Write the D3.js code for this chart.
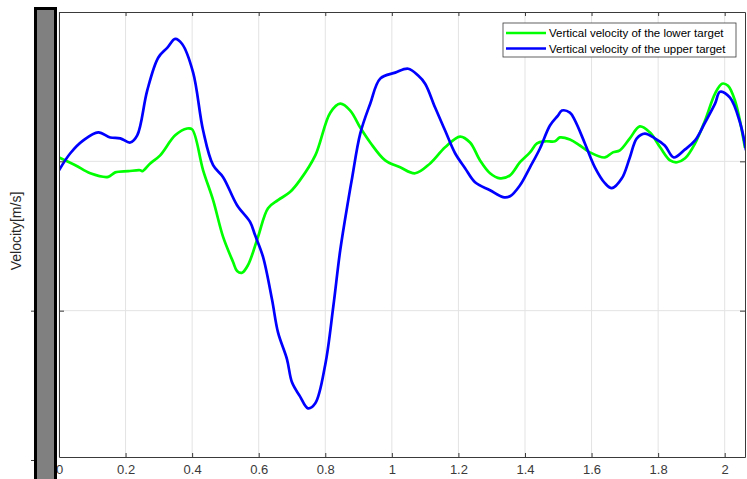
<!DOCTYPE html>
<html>
<head>
<meta charset="utf-8">
<script src="https://cdn.jsdelivr.net/npm/d3@7"></script>
<style>
  body { margin: 0; background: #fff; }
  svg { display: block; font-family: Arial, "Liberation Sans", sans-serif; }
</style>
</head>
<body>
<div id="chart"></div>
<script>
// data
const lowerT = [0, 0.049, 0.094, 0.148, 0.169, 0.208, 0.244, 0.25, 0.274, 0.304, 0.349, 0.385, 0.4, 0.433, 0.463, 0.493, 0.523, 0.535, 0.55, 0.568, 0.598, 0.628, 0.658, 0.694, 0.724, 0.77, 0.815, 0.845, 0.875, 0.905, 0.935, 0.98, 1.025, 1.07, 1.115, 1.16, 1.205, 1.235, 1.265, 1.295, 1.325, 1.355, 1.385, 1.415, 1.436, 1.46, 1.49, 1.505, 1.535, 1.565, 1.595, 1.64, 1.664, 1.685, 1.715, 1.745, 1.775, 1.806, 1.836, 1.857, 1.881, 1.911, 1.941, 1.971, 1.992, 2.01, 2.031, 2.061];
const lowerV = [0.013, -0.013, -0.04, -0.052, -0.037, -0.033, -0.03, -0.033, -0.007, 0.02, 0.087, 0.11, 0.107, -0.03, -0.13, -0.253, -0.337, -0.367, -0.373, -0.347, -0.253, -0.157, -0.13, -0.103, -0.063, 0.02, 0.163, 0.193, 0.17, 0.113, 0.063, 0.003, -0.02, -0.04, -0.007, 0.047, 0.083, 0.063, 0.003, -0.04, -0.057, -0.047, -0.003, 0.03, 0.06, 0.067, 0.067, 0.08, 0.073, 0.053, 0.03, 0.013, 0.03, 0.037, 0.077, 0.117, 0.097, 0.047, 0.003, -0.003, 0.01, 0.06, 0.137, 0.227, 0.26, 0.253, 0.203, 0.045];

const upperT = [0, 0.034, 0.073, 0.118, 0.154, 0.184, 0.214, 0.235, 0.265, 0.298, 0.325, 0.349, 0.37, 0.403, 0.433, 0.463, 0.493, 0.535, 0.574, 0.589, 0.613, 0.64, 0.658, 0.685, 0.7, 0.724, 0.748, 0.77, 0.8, 0.824, 0.845, 0.869, 0.881, 0.905, 0.935, 0.965, 1.01, 1.049, 1.079, 1.1, 1.13, 1.16, 1.19, 1.22, 1.25, 1.295, 1.334, 1.355, 1.385, 1.415, 1.445, 1.475, 1.499, 1.511, 1.535, 1.55, 1.58, 1.61, 1.64, 1.661, 1.691, 1.715, 1.736, 1.76, 1.79, 1.82, 1.847, 1.881, 1.911, 1.941, 1.971, 1.986, 2.016, 2.046, 2.064];
const upperV = [-0.03, 0.027, 0.07, 0.097, 0.08, 0.077, 0.063, 0.087, 0.237, 0.347, 0.38, 0.41, 0.393, 0.297, 0.103, -0.013, -0.053, -0.147, -0.203, -0.247, -0.32, -0.463, -0.573, -0.663, -0.74, -0.787, -0.827, -0.81, -0.68, -0.487, -0.297, -0.13, -0.053, 0.093, 0.193, 0.277, 0.297, 0.31, 0.287, 0.26, 0.18, 0.103, 0.027, -0.023, -0.07, -0.097, -0.12, -0.117, -0.08, -0.02, 0.043, 0.12, 0.153, 0.17, 0.163, 0.137, 0.06, -0.02, -0.073, -0.09, -0.057, 0.013, 0.077, 0.093, 0.077, 0.053, 0.013, 0.04, 0.07, 0.13, 0.193, 0.233, 0.213, 0.13, 0.037];

const seriesNames = ["Vertical velocity of the lower target", "Vertical velocity of the upper target"];
const seriesColors = ["#00ff00", "#0000ff"];
const xTicks = [0, 0.2, 0.4, 0.6, 0.8, 1, 1.2, 1.4, 1.6, 1.8, 2];
const yTicks = [-1, -0.5, 0];
const yLabel = "Velocity[m/s]";

const width = 747, height = 479;
const margin = { top: 12, right: 2, bottom: 22, left: 59 };

const svg = d3.select("#chart").append("svg")
  .attr("width", width)
  .attr("height", height);

const x = d3.scaleLinear()
  .domain([0, 2.061])
  .range([margin.left, width - margin.right]);

const y = d3.scaleLinear()
  .domain([-0.99, 0.5])
  .range([height - margin.bottom, margin.top]);

// grid
svg.append("g")
  .selectAll("line")
  .data(xTicks)
  .join("line")
  .attr("x1", d => x(d)).attr("x2", d => x(d))
  .attr("y1", y.range()[1]).attr("y2", y.range()[0])
  .attr("stroke", "#e3e3e3");

svg.append("g")
  .selectAll("line")
  .data(yTicks.filter(d => d > y.domain()[0]))
  .join("line")
  .attr("x1", x.range()[0]).attr("x2", x.range()[1])
  .attr("y1", d => y(d)).attr("y2", d => y(d))
  .attr("stroke", "#e3e3e3");

// lines
const line = d3.line()
  .x(d => x(d[0]))
  .y(d => y(d[1]))
  .curve(d3.curveCatmullRom);

const lines = [d3.zip(lowerT, lowerV), d3.zip(upperT, upperV)];

svg.append("defs").append("clipPath").attr("id", "clip")
  .append("rect")
  .attr("x", x.range()[0]).attr("y", y.range()[1])
  .attr("width", x.range()[1] - x.range()[0])
  .attr("height", y.range()[0] - y.range()[1]);

svg.append("g")
  .attr("clip-path", "url(#clip)")
  .selectAll("path")
  .data(lines)
  .join("path")
  .attr("d", line)
  .attr("fill", "none")
  .attr("stroke", (d, i) => seriesColors[i])
  .attr("stroke-width", 2.7)
  .attr("stroke-linejoin", "round");

// axes, MATLAB style box with inward ticks
const axisColor = "#3a3a3a";

const xAxis = svg.append("g")
  .attr("transform", `translate(0,${y.range()[0]})`)
  .call(d3.axisBottom(x).tickValues(xTicks).tickSizeInner(-4).tickSizeOuter(0).tickPadding(8).tickFormat(d3.format("~g")));
xAxis.selectAll("text").attr("font-size", 13).attr("fill", "#3a3a3a");

svg.append("g")
  .attr("transform", `translate(0,${y.range()[1]})`)
  .call(d3.axisTop(x).tickValues(xTicks).tickSizeInner(-4).tickSizeOuter(0).tickFormat(""));

svg.append("g")
  .attr("transform", `translate(${x.range()[0]},0)`)
  .call(d3.axisLeft(y).tickValues(yTicks.filter(d => d > y.domain()[0])).tickSizeInner(-5).tickSizeOuter(0).tickFormat(""));

svg.append("g")
  .attr("transform", `translate(${x.range()[1]},0)`)
  .call(d3.axisRight(y).tickValues(yTicks.filter(d => d > y.domain()[0])).tickSizeInner(-5).tickSizeOuter(0).tickFormat(""));

svg.selectAll(".domain, .tick line").attr("stroke", axisColor);

// ticks of the hidden y axis, left of the gray bar
svg.append("g")
  .attr("transform", "translate(35,0)")
  .call(d3.axisLeft(y).tickValues([-1, -0.5]).tickSizeInner(4).tickSizeOuter(0).tickFormat(""))
  .call(g => g.select(".domain").remove())
  .selectAll("line").attr("stroke", axisColor);

// gray bar covering the y tick labels
svg.append("rect")
  .attr("x", 35.5).attr("y", 8.5)
  .attr("width", 20).attr("height", 480)
  .attr("fill", "#808080")
  .attr("stroke", "#000")
  .attr("stroke-width", 3);

svg.append("text")
  .attr("transform", `translate(21,${231}) rotate(-90)`)
  .attr("text-anchor", "middle")
  .attr("font-size", 14)
  .attr("fill", "#262626")
  .text(yLabel);

// legend
const legend = svg.append("g").attr("transform", "translate(503,23)");
legend.append("rect")
  .attr("width", 233).attr("height", 34)
  .attr("fill", "#fff")
  .attr("stroke", axisColor)
  .attr("stroke-width", 0.8);

const items = legend.selectAll("g.item")
  .data(seriesNames)
  .join("g")
  .attr("class", "item")
  .attr("transform", (d, i) => `translate(0,${10 + i * 15.5})`);

items.append("line")
  .attr("x1", 3).attr("x2", 43)
  .attr("stroke", (d, i) => seriesColors[i])
  .attr("stroke-width", 2.7);

items.append("text")
  .attr("x", 46)
  .attr("dy", "0.35em")
  .attr("font-size", 11.5)
  .attr("fill", "#000")
  .text(d => d);
</script>
</body>
</html>
